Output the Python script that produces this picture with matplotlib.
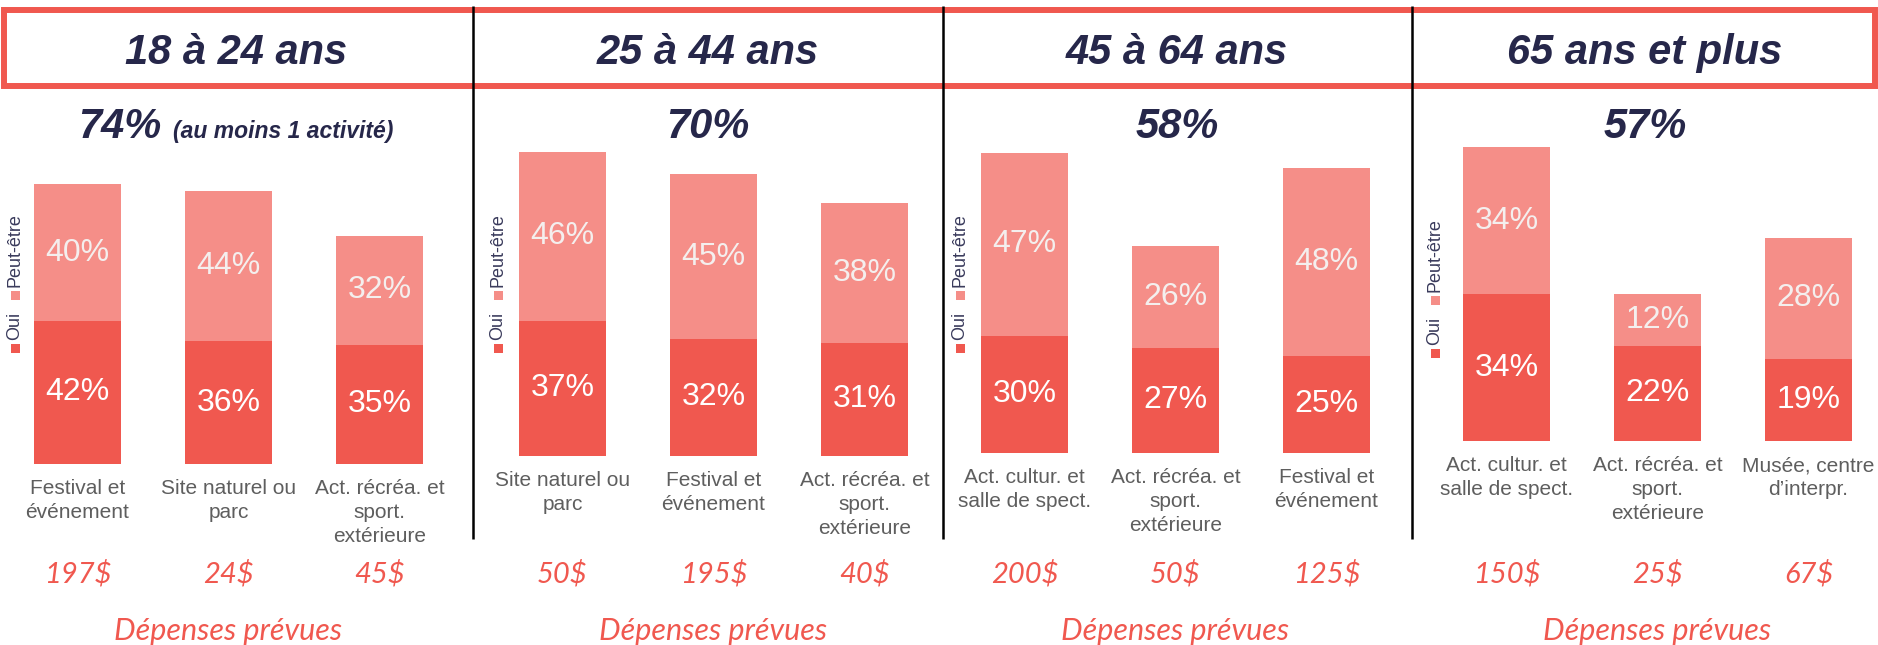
import matplotlib
matplotlib.use("Agg")
import matplotlib.pyplot as plt
from matplotlib.patches import Rectangle

# data
groups = ["18 à 24 ans", "25 à 44 ans", "45 à 64 ans", "65 ans et plus"]
totals = ["74%", "70%", "58%", "57%"]
categories = [
    ["Festival et\névénement", "Site naturel ou\nparc", "Act. récréa. et\nsport.\nextérieure"],
    ["Site naturel ou\nparc", "Festival et\névénement", "Act. récréa. et\nsport.\nextérieure"],
    ["Act. cultur. et\nsalle de spect.", "Act. récréa. et\nsport.\nextérieure", "Festival et\névénement"],
    ["Act. cultur. et\nsalle de spect.", "Act. récréa. et\nsport.\nextérieure", "Musée, centre\nd’interpr."],
]
oui = [[42, 36, 35], [37, 32, 31], [30, 27, 25], [34, 22, 19]]
peut_etre = [[40, 44, 32], [46, 45, 38], [47, 26, 48], [34, 12, 28]]
depenses = [["197$", "24$", "45$"], ["50$", "195$", "40$"],
            ["200$", "50$", "125$"], ["150$", "25$", "67$"]]

C_OUI = "#F0584F"
C_PEUT = "#F58E88"
NAVY = "#26274A"
GREY = "#5E5E5E"

W, H = 1878, 645
fig = plt.figure(figsize=(W / 100, H / 100), dpi=100)
plt.rcParams["font.family"] = ["Liberation Sans", "DejaVu Sans"]

# panel layout in pixels: left edge, bar baseline, pixels per percent
pan_left = [2, 487, 949, 1431]
pan_base = [464, 456, 453, 441]
pan_scale = [3.41, 3.66, 3.90, 4.32]
pan_center = [236, 708, 1177, 1645]
legend_x = [15, 498, 960, 1435]
legend_dy = [0, 0, 0, 5]
dividers = [473, 943, 1412]

# overlay for decorations, in pixel coordinates
ov = fig.add_axes([0, 0, 1, 1], zorder=5)
ov.set_xlim(0, W)
ov.set_ylim(H, 0)
ov.axis("off")
ov.patch.set_alpha(0)

for p in range(4):
    base = pan_base[p]
    s = pan_scale[p]
    ax = fig.add_axes([pan_left[p] / W, (H - base) / H, 453 / W, 100 * s / H])
    ax.patch.set_alpha(0)
    x = range(3)
    ax.bar(x, oui[p], width=0.576, color=C_OUI)
    ax.bar(x, peut_etre[p], width=0.576, bottom=oui[p], color=C_PEUT)
    for i in x:
        ax.text(i, oui[p][i] / 2, f"{oui[p][i]}%", ha="center", va="center",
                color="white", fontsize=23)
        ax.text(i, oui[p][i] + peut_etre[p][i] / 2, f"{peut_etre[p][i]}%",
                ha="center", va="center", color="#F4EFEE", fontsize=23)
    ax.set_xlim(-0.5, 2.5)
    ax.set_ylim(0, 100)
    ax.set_xticks(list(x))
    ax.set_xticklabels(categories[p], fontsize=15, color=GREY, linespacing=1.32)
    ax.tick_params(axis="x", length=0, pad=11)
    ax.set_yticks([])
    for sp in ax.spines.values():
        sp.set_visible(False)

    # planned spending under each bar
    for i in x:
        cx = pan_left[p] + 75.5 + 151 * i
        ov.text(cx, 574, depenses[p][i], ha="center", va="center", color=C_OUI,
                fontsize=21, style="italic", family=["Lato", "DejaVu Sans"])
    ov.text(pan_left[p] + 75.5 + 151, 631, "Dépenses prévues", ha="center",
            va="center", color=C_OUI, fontsize=22, style="italic",
            family=["Lato", "DejaVu Sans"])

    # header and total
    ov.text(pan_center[p], 64, groups[p], ha="center", va="baseline", color=NAVY,
            fontsize=30, weight="bold", style="italic")
    if p == 0:
        ov.text(78, 138, totals[p], ha="left", va="baseline", color=NAVY,
                fontsize=30, weight="bold", style="italic")
        ov.text(173, 138, "(au moins 1 activité)", ha="left", va="baseline",
                color=NAVY, fontsize=16.5, weight="bold", style="italic")
    else:
        ov.text(pan_center[p], 138, totals[p], ha="center", va="baseline",
                color=NAVY, fontsize=30, weight="bold", style="italic")

    # vertical legend
    lx = legend_x[p]
    dy = legend_dy[p]
    ov.add_patch(Rectangle((lx - 4.5, 343.5 + dy), 9, 9, color=C_OUI, lw=0))
    ov.text(lx, 326 + dy, "Oui", rotation=90, ha="center", va="center",
            color="#3A3B5C", fontsize=13)
    ov.add_patch(Rectangle((lx - 4.5, 290.5 + dy), 9, 9, color=C_PEUT, lw=0))
    ov.text(lx, 250 + dy, "Peut-être", rotation=90, ha="center", va="center",
            color="#3A3B5C", fontsize=13)

# bottom of the first panel's last label is cut off in the original
ov.add_patch(Rectangle((320, 544), 120, 12, color="white", lw=0, zorder=6))
ov.vlines(dividers, 6, 539, color="black", lw=1.8)
ov.add_patch(Rectangle((4, 10), 1871, 75.5, fill=False, edgecolor=C_OUI, lw=4.3))

fig.savefig("out.png", dpi=100)
